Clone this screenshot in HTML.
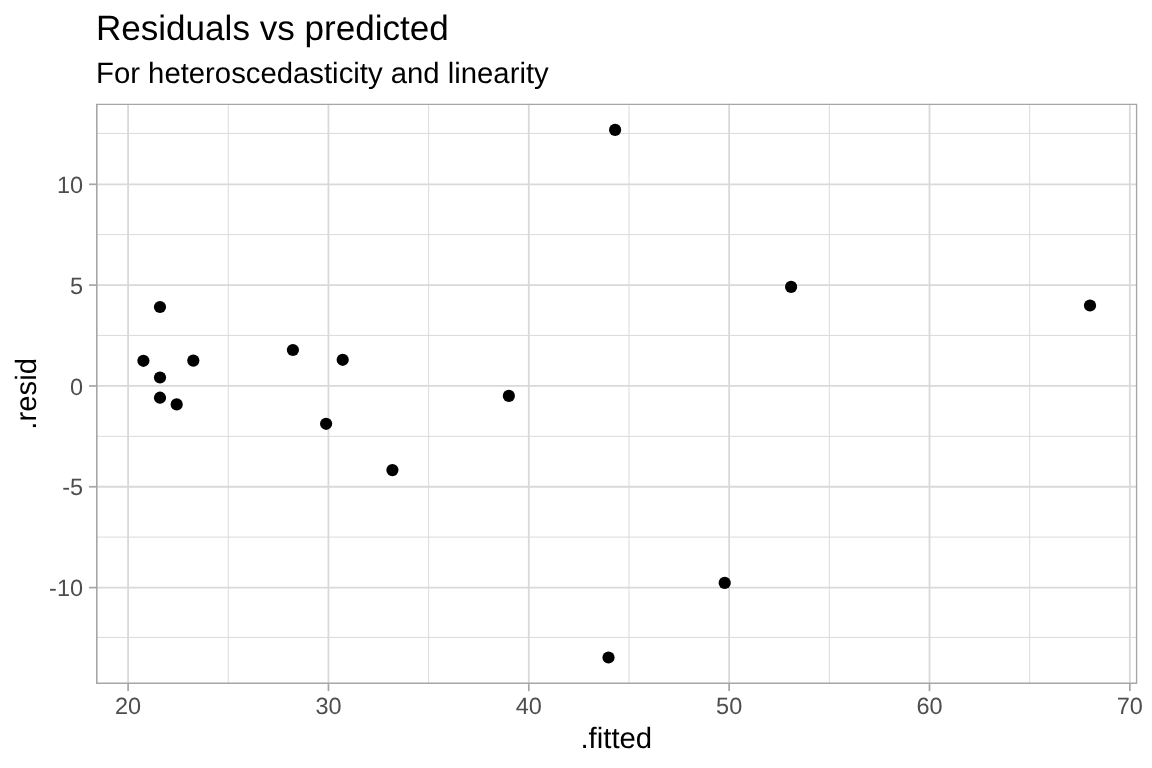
<!DOCTYPE html><html><head><meta charset="utf-8"><title>Residuals vs predicted</title>
<style>html,body{margin:0;padding:0;background:#fff;width:1152px;height:768px;overflow:hidden}svg{display:block}text{font-family:"Liberation Sans",Arial,Helvetica,sans-serif;text-rendering:geometricPrecision}</style></head><body>
<svg width="1152" height="768" viewBox="0 0 1152 768">
<rect x="0" y="0" width="1152" height="768" fill="#fff"/>
<defs><clipPath id="pc"><rect x="96.0" y="103.5" width="1041.50" height="580.60"/></clipPath></defs>
<g clip-path="url(#pc)">
<line x1="228.27" y1="103.5" x2="228.27" y2="684.1" stroke="#D9D9D9" stroke-width="0.95"/>
<line x1="428.62" y1="103.5" x2="428.62" y2="684.1" stroke="#D9D9D9" stroke-width="0.95"/>
<line x1="628.98" y1="103.5" x2="628.98" y2="684.1" stroke="#D9D9D9" stroke-width="0.95"/>
<line x1="829.33" y1="103.5" x2="829.33" y2="684.1" stroke="#D9D9D9" stroke-width="0.95"/>
<line x1="1029.67" y1="103.5" x2="1029.67" y2="684.1" stroke="#D9D9D9" stroke-width="0.95"/>
<line x1="96.0" y1="637.45" x2="1137.5" y2="637.45" stroke="#D9D9D9" stroke-width="0.95"/>
<line x1="96.0" y1="537.10" x2="1137.5" y2="537.10" stroke="#D9D9D9" stroke-width="0.95"/>
<line x1="96.0" y1="436.35" x2="1137.5" y2="436.35" stroke="#D9D9D9" stroke-width="0.95"/>
<line x1="96.0" y1="335.45" x2="1137.5" y2="335.45" stroke="#D9D9D9" stroke-width="0.95"/>
<line x1="96.0" y1="234.60" x2="1137.5" y2="234.60" stroke="#D9D9D9" stroke-width="0.95"/>
<line x1="96.0" y1="133.45" x2="1137.5" y2="133.45" stroke="#D9D9D9" stroke-width="0.95"/>
<line x1="128.10" y1="103.5" x2="128.10" y2="684.1" stroke="#D9D9D9" stroke-width="1.8"/>
<line x1="328.45" y1="103.5" x2="328.45" y2="684.1" stroke="#D9D9D9" stroke-width="1.8"/>
<line x1="528.80" y1="103.5" x2="528.80" y2="684.1" stroke="#D9D9D9" stroke-width="1.8"/>
<line x1="729.15" y1="103.5" x2="729.15" y2="684.1" stroke="#D9D9D9" stroke-width="1.8"/>
<line x1="929.50" y1="103.5" x2="929.50" y2="684.1" stroke="#D9D9D9" stroke-width="1.8"/>
<line x1="1129.85" y1="103.5" x2="1129.85" y2="684.1" stroke="#D9D9D9" stroke-width="1.8"/>
<line x1="96.0" y1="587.60" x2="1137.5" y2="587.60" stroke="#D9D9D9" stroke-width="1.8"/>
<line x1="96.0" y1="486.77" x2="1137.5" y2="486.77" stroke="#D9D9D9" stroke-width="1.8"/>
<line x1="96.0" y1="385.95" x2="1137.5" y2="385.95" stroke="#D9D9D9" stroke-width="1.8"/>
<line x1="96.0" y1="285.12" x2="1137.5" y2="285.12" stroke="#D9D9D9" stroke-width="1.8"/>
<line x1="96.0" y1="184.30" x2="1137.5" y2="184.30" stroke="#D9D9D9" stroke-width="1.8"/>
<circle cx="143.4" cy="360.8" r="6.1" fill="#000"/>
<circle cx="160.0" cy="307.0" r="6.1" fill="#000"/>
<circle cx="193.3" cy="360.6" r="6.1" fill="#000"/>
<circle cx="160.0" cy="377.5" r="6.1" fill="#000"/>
<circle cx="160.0" cy="397.7" r="6.1" fill="#000"/>
<circle cx="176.7" cy="404.4" r="6.1" fill="#000"/>
<circle cx="292.9" cy="350.0" r="6.1" fill="#000"/>
<circle cx="342.7" cy="359.8" r="6.1" fill="#000"/>
<circle cx="326.1" cy="423.8" r="6.1" fill="#000"/>
<circle cx="392.4" cy="470.1" r="6.1" fill="#000"/>
<circle cx="508.85" cy="395.9" r="6.1" fill="#000"/>
<circle cx="615.1" cy="129.9" r="6.1" fill="#000"/>
<circle cx="608.5" cy="657.5" r="6.1" fill="#000"/>
<circle cx="724.7" cy="582.9" r="6.1" fill="#000"/>
<circle cx="791.1" cy="286.9" r="6.1" fill="#000"/>
<circle cx="1090.0" cy="305.5" r="6.1" fill="#000"/>
<path d="M96.0,103.5H1137.5V684.1H96.0Z M97.6,105.1V682.5H1135.9V105.1Z" fill="#A6A6A6" fill-rule="evenodd"/>
</g>
<line x1="128.10" y1="684.1" x2="128.10" y2="691.10" stroke="#A6A6A6" stroke-width="1.7"/>
<line x1="328.45" y1="684.1" x2="328.45" y2="691.10" stroke="#A6A6A6" stroke-width="1.7"/>
<line x1="528.80" y1="684.1" x2="528.80" y2="691.10" stroke="#A6A6A6" stroke-width="1.7"/>
<line x1="729.15" y1="684.1" x2="729.15" y2="691.10" stroke="#A6A6A6" stroke-width="1.7"/>
<line x1="929.50" y1="684.1" x2="929.50" y2="691.10" stroke="#A6A6A6" stroke-width="1.7"/>
<line x1="1129.85" y1="684.1" x2="1129.85" y2="691.10" stroke="#A6A6A6" stroke-width="1.7"/>
<line x1="89.00" y1="587.60" x2="96.0" y2="587.60" stroke="#A6A6A6" stroke-width="1.7"/>
<line x1="89.00" y1="486.77" x2="96.0" y2="486.77" stroke="#A6A6A6" stroke-width="1.7"/>
<line x1="89.00" y1="385.95" x2="96.0" y2="385.95" stroke="#A6A6A6" stroke-width="1.7"/>
<line x1="89.00" y1="285.12" x2="96.0" y2="285.12" stroke="#A6A6A6" stroke-width="1.7"/>
<line x1="89.00" y1="184.30" x2="96.0" y2="184.30" stroke="#A6A6A6" stroke-width="1.7"/>
<text x="128.10" y="713.9" font-size="23.47" fill="#4D4D4D" text-anchor="middle">20</text>
<text x="328.45" y="713.9" font-size="23.47" fill="#4D4D4D" text-anchor="middle">30</text>
<text x="528.80" y="713.9" font-size="23.47" fill="#4D4D4D" text-anchor="middle">40</text>
<text x="729.15" y="713.9" font-size="23.47" fill="#4D4D4D" text-anchor="middle">50</text>
<text x="929.50" y="713.9" font-size="23.47" fill="#4D4D4D" text-anchor="middle">60</text>
<text x="1129.85" y="713.9" font-size="23.47" fill="#4D4D4D" text-anchor="middle">70</text>
<text x="83.0" y="596.20" font-size="23.47" fill="#4D4D4D" text-anchor="end">-10</text>
<text x="83.0" y="495.38" font-size="23.47" fill="#4D4D4D" text-anchor="end">-5</text>
<text x="83.0" y="394.55" font-size="23.47" fill="#4D4D4D" text-anchor="end">0</text>
<text x="83.0" y="293.73" font-size="23.47" fill="#4D4D4D" text-anchor="end">5</text>
<text x="83.0" y="192.90" font-size="23.47" fill="#4D4D4D" text-anchor="end">10</text>
<text x="95.9" y="39.9" font-size="35.1" fill="#000">Residuals vs predicted</text>
<text x="96.0" y="82.6" font-size="29.3" fill="#000">For heteroscedasticity and linearity</text>
<text x="616.30" y="748" font-size="29.33" fill="#000" text-anchor="middle">.fitted</text>
<text transform="translate(35.5,393.80) rotate(-90)" x="0" y="0" font-size="29.33" fill="#000" text-anchor="middle">.resid</text>
</svg></body></html>
